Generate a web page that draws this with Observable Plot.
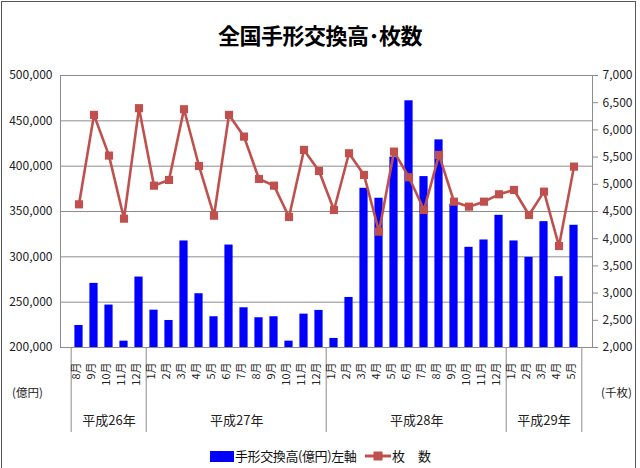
<!DOCTYPE html>
<html><head><meta charset="utf-8">
<script src="https://cdn.jsdelivr.net/npm/d3@7"></script>
<script src="https://cdn.jsdelivr.net/npm/@observablehq/plot@0.6"></script>
<style>
html,body{margin:0;padding:0;overflow:hidden;background:#fff;}
body{width:640px;height:468px;position:relative;font-family:"Noto Sans CJK JP","Noto Sans",sans-serif;}
#box{position:absolute;left:1px;top:1px;width:635px;height:480px;border:1px solid #555;box-sizing:border-box;}
#title{position:absolute;left:0;top:17px;width:640px;text-align:center;font-size:22px;font-weight:bold;color:#000;line-height:34px;letter-spacing:-0.5px;}
#chart{position:absolute;left:0;top:60px;}
.unit{position:absolute;font-size:11.5px;color:#222;}
#legend{position:absolute;top:446px;left:0;width:640px;height:20px;font-size:13px;color:#111;}
#legend span{position:absolute;top:0;line-height:20px;}
</style></head>
<body>
<div id="box"></div>
<div id="title">全国手形交換高･枚数</div>
<div id="chart"></div>
<div class="unit" style="left:12px;top:384px;">(億円)</div>
<div class="unit" style="left:601px;top:384px;">(千枚)</div>
<div id="legend">
  <span style="left:210px;top:5px;width:24px;height:11px;background:#0000ff;"></span>
  <span style="left:235px;letter-spacing:-0.4px;">手形交換高(億円)左軸</span>
  <svg style="position:absolute;left:364px;top:3px;" width="28" height="14"><line x1="1" y1="7" x2="27" y2="7" stroke="#c0504d" stroke-width="3"/><rect x="9.5" y="2.5" width="9" height="9" fill="#c0504d"/></svg>
  <span style="left:392px;">枚　数</span>
</div>
<script>
// ---- data ----
const yearLabels = ["平成26年", "平成27年", "平成28年", "平成29年"];
const yearMonths = [
  [8, 9, 10, 11, 12],
  [1, 2, 3, 4, 5, 6, 7, 8, 9, 10, 11, 12],
  [1, 2, 3, 4, 5, 6, 7, 8, 9, 10, 11, 12],
  [1, 2, 3, 4, 5]
];
// 手形交換高 (億円) - left axis
const amount = [224300, 270700, 246800, 207000, 277700,
  241200, 229800, 317500, 259300, 233900, 313000, 243800, 232800, 233900, 207000, 236800, 240900,
  210000, 255200, 375600, 364600, 410000, 472100, 388500, 429000, 358000, 310500, 318600, 345800,
  317500, 299400, 338800, 278100, 334800];
// 枚数 (千枚) - right axis
const count = [4632, 6276, 5528, 4368, 6399,
  4975, 5080, 6380, 5337, 4423, 6276, 5877, 5098, 4975, 4399, 5632, 5245,
  4528, 5571, 5172, 4129, 5601, 5129, 4528, 5540, 4681, 4589, 4681, 4816,
  4896, 4436, 4865, 3865, 5325];
const leftTicks = [200000, 250000, 300000, 350000, 400000, 450000, 500000];
const rightTicks = [2000, 2500, 3000, 3500, 4000, 4500, 5000, 5500, 6000, 6500, 7000];

// ---- build table ----
const rows = [];
yearMonths.forEach((ms, yi) => ms.forEach(m => rows.push({key: `${yi}-${m}`, month: `${m}月`, year: yearLabels[yi]})));
rows.forEach((r, i) => { r.amount = amount[i]; r.count = count[i]; });
const monthOf = new Map(rows.map(r => [r.key, r.month]));
const keys = rows.map(r => r.key);

// right axis mapped onto left scale
const L0 = leftTicks[0], L1 = leftTicks[leftTicks.length - 1];
const R0 = rightTicks[0], R1 = rightTicks[rightTicks.length - 1];
const toLeft = v => L0 + (v - R0) * (L1 - L0) / (R1 - R0);
const fromLeft = v => R0 + (v - L0) * (R1 - R0) / (L1 - L0);

const W = 640, H = 380, mL = 60, mR = 48, mT = 15, mB = 93;
const step = (W - mL - mR) / rows.length;

// group boundaries and centres
const groupStart = [], groupEnd = [], groupOdd = [], groupEven = [];
let idx = 0;
yearMonths.forEach((ms, yi) => {
  const first = idx, last = idx + ms.length - 1;
  groupStart.push(keys[first]);
  if (yi === yearMonths.length - 1) groupEnd.push(keys[last]);
  const midIdx = Math.floor((first + last) / 2);
  if (ms.length % 2 === 1) groupOdd.push({key: keys[midIdx], label: yearLabels[yi]});
  else groupEven.push({key: keys[midIdx], label: yearLabels[yi]});
  idx += ms.length;
});

const fmt = d3.format(",");
const red = "#c0504d";

const plot = Plot.plot({
  width: W, height: H,
  marginLeft: mL, marginRight: mR, marginTop: mT, marginBottom: mB,
  style: {fontFamily: '"Noto Sans CJK JP","Noto Sans",sans-serif', background: "transparent", color: "#222"},
  x: {type: "band", domain: keys, padding: 0},
  y: {domain: [L0, L1]},
  marks: [
    Plot.gridY(leftTicks, {stroke: "#8c8c8c", strokeOpacity: 1, strokeWidth: 1}),
    Plot.barY(rows, {x: "key", y1: L0, y2: "amount", fill: "#0000ff", insetLeft: 3.4, insetRight: 3.4}),
    Plot.frame({stroke: "#8c8c8c"}),
    Plot.ruleX(groupStart, {x: d => d, y1: L0, y2: L0, dx: -step / 2, insetBottom: -85, stroke: "#8c8c8c"}),
    Plot.ruleX(groupEnd, {x: d => d, y1: L0, y2: L0, dx: step / 2, insetBottom: -85, stroke: "#8c8c8c"}),
    Plot.line(rows, {x: "key", y: d => toLeft(d.count), stroke: red, strokeWidth: 2.6}),
    Plot.dot(rows, {x: "key", y: d => toLeft(d.count), symbol: "square", r: 4.6, fill: red}),
    Plot.axisY(leftTicks, {anchor: "left", tickSize: 0, tickPadding: 8, tickFormat: fmt, fontSize: 12, label: null}),
    Plot.axisY(rightTicks.map(toLeft), {anchor: "right", tickSize: 5, tickPadding: 5, stroke: "#8c8c8c", tickFormat: d => fmt(Math.round(fromLeft(d))), fontSize: 12, label: null}),
    Plot.axisX({anchor: "bottom", tickSize: 0, tickPadding: 15, tickRotate: -90, tickFormat: k => monthOf.get(k), fontSize: 11, dx: -3, label: null}),
    Plot.text(groupOdd, {x: "key", text: "label", y: L0, dy: 73, fontSize: 13, fill: "#222"}),
    Plot.text(groupEven, {x: "key", text: "label", y: L0, dy: 73, dx: step / 2, fontSize: 13, fill: "#222"})
  ]
});
document.getElementById("chart").appendChild(plot);
</script>
</body></html>
